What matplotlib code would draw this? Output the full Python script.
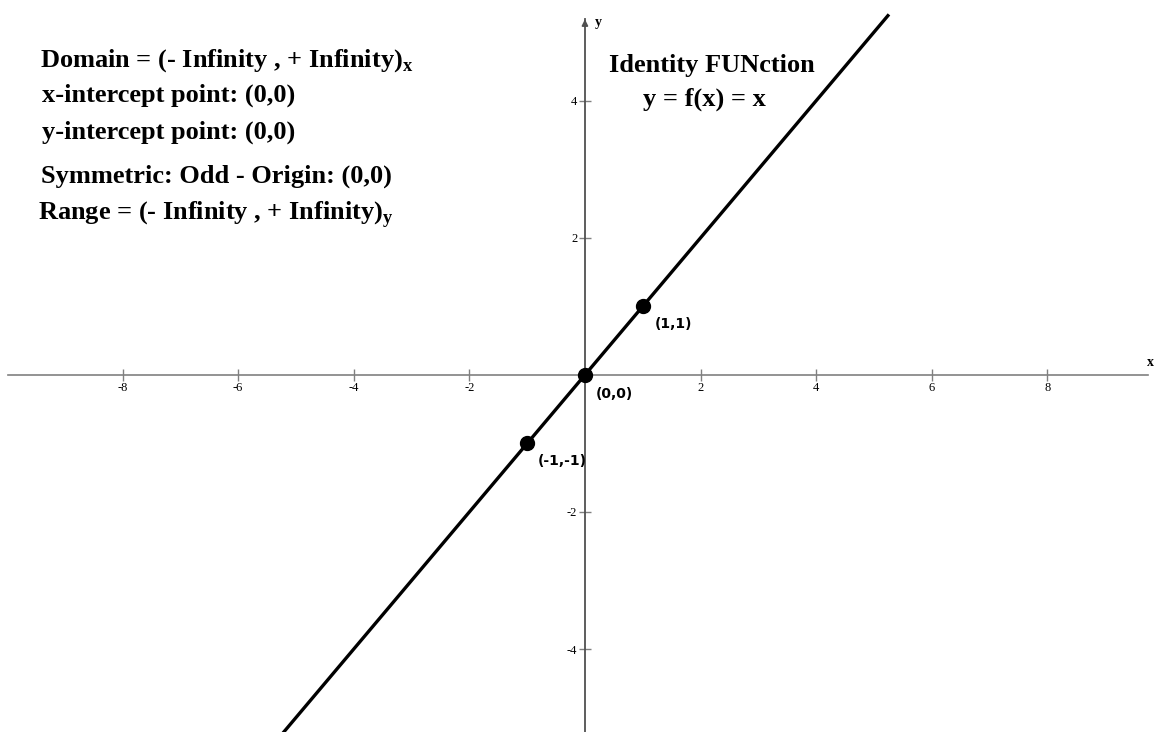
import numpy as np
import matplotlib.pyplot as plt

# identity function y = x and the marked points on it
line_x = np.array([-5.3, 5.26])
line_y = line_x.copy()
pts_x = [-1, 0, 1]
pts_y = [-1, 0, 1]
pts_labels = ["(-1,-1)", "(0,0)", "(1,1)"]
pts_offsets = [(8, -7.5), (8, -8.5), (8.5, -8)]

xticks = [-8, -6, -4, -2, 2, 4, 6, 8]
yticks = [-4, -2, 2, 4]

info_lines = [
    r"Domain = (- Infinity , + Infinity)$_\mathregular{x}$",
    "x-intercept point: (0,0)",
    "y-intercept point: (0,0)",
    "Symmetric: Odd - Origin: (0,0)",
    r"Range = (- Infinity , + Infinity)$_\mathregular{y}$",
]
info_pos = [(40, 67), (42, 102), (42, 139), (41, 183), (38, 220)]

serif = "Liberation Serif"

fig = plt.figure(figsize=(11.56, 7.32), dpi=100)
ax = fig.add_axes([0, 0, 1, 1])
ax.set_xlim(-10.12, 9.88)
ax.set_ylim(-5.21, 5.47)

# axes drawn through the origin
for side in ("top", "right"):
    ax.spines[side].set_visible(False)
ax.spines["bottom"].set_position(("data", 0))
ax.spines["left"].set_position(("data", 0))
ax.spines["bottom"].set_bounds(-9.98, 9.75)
ax.spines["left"].set_bounds(-5.21, 5.2)
ax.spines["bottom"].set_color("#808080")
ax.spines["left"].set_color("#505050")
ax.spines["bottom"].set_linewidth(1.2)
ax.spines["left"].set_linewidth(1.3)
ax.annotate("", xy=(0, 5.23), xytext=(0, 5.05),
            arrowprops=dict(arrowstyle="-|>", color="#505050", lw=1.2,
                            mutation_scale=9))

ax.set_xticks(xticks)
ax.set_yticks(yticks)
ax.set_xticklabels([str(t) for t in xticks], family=serif, fontsize=9)
ax.set_yticklabels([str(t) for t in yticks], family=serif, fontsize=9)
ax.tick_params(axis="x", direction="inout", length=8, width=1, color="#808080", pad=1)
ax.tick_params(axis="y", direction="inout", length=9, width=1, color="#808080", pad=1)

fig.text(1147 / 1156, 1 - 366 / 732, "x", family=serif, weight="bold",
         fontsize=10, va="baseline", ha="left")
fig.text(595 / 1156, 1 - 26 / 732, "y", family=serif, weight="bold",
         fontsize=10, va="baseline", ha="left")

ax.plot(line_x, line_y, color="black", lw=2.4, solid_capstyle="butt")
ax.plot(pts_x, pts_y, "o", color="black", markersize=10, zorder=3)
for x, y, lab, off in zip(pts_x, pts_y, pts_labels, pts_offsets):
    ax.annotate(lab, (x, y), xytext=off, textcoords="offset points",
                fontsize=10, weight="bold", family="DejaVu Sans",
                color="black", va="top", ha="left")

for txt, (px, py) in zip(info_lines, info_pos):
    fig.text(px / 1156, 1 - py / 732, txt, family=serif, weight="bold",
             fontsize=19, va="baseline", ha="left")

fig.text(712 / 1156, 1 - 72 / 732, "Identity FUNction", family=serif,
         weight="bold", fontsize=19, va="baseline", ha="center")
fig.text(704 / 1156, 1 - 106 / 732, "y = f(x) = x", family=serif,
         weight="bold", fontsize=19, va="baseline", ha="center")

fig.savefig("out.png", dpi=100)
